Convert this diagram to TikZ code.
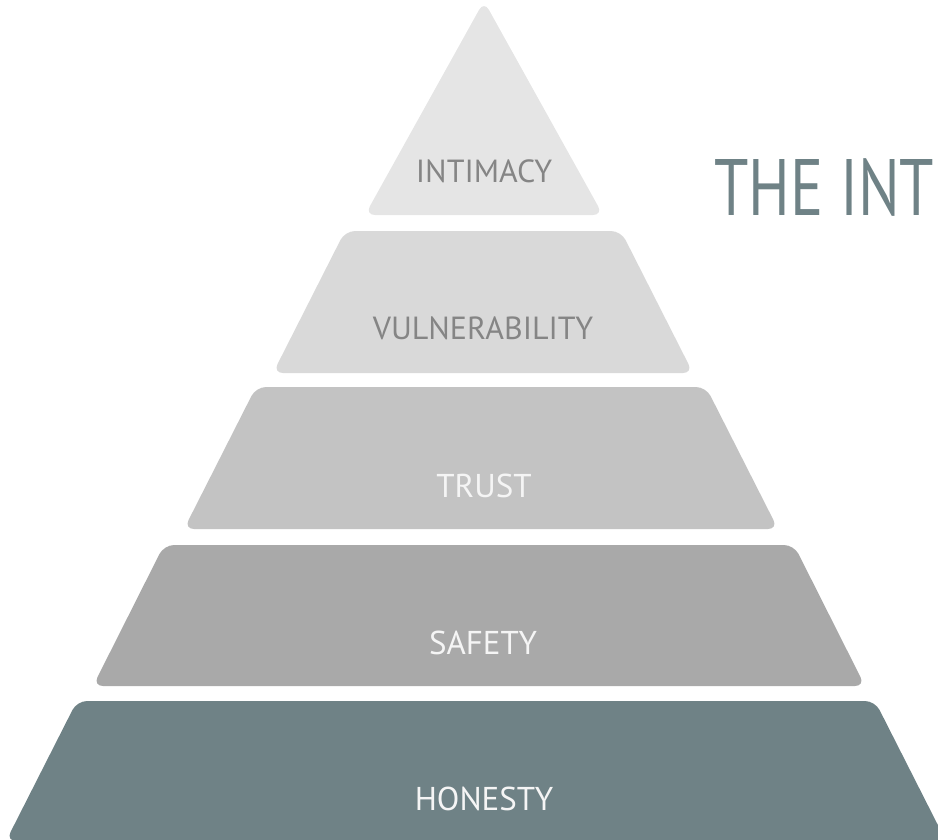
\documentclass[tikz,border=0pt]{standalone}
\usepackage{fontspec}
\setmainfont{PT Sans}
\usepackage{xcolor}
\usetikzlibrary{positioning}
\definecolor{tierone}{HTML}{E5E5E5}
\definecolor{tiertwo}{HTML}{D9D9D9}
\definecolor{tierthree}{HTML}{C3C3C3}
\definecolor{tierfour}{HTML}{A9A9A9}
\definecolor{tierfive}{HTML}{6F8286}
\definecolor{labelgrey}{HTML}{858585}
\begin{document}
\begin{tikzpicture} [x=1pt,y=-1pt,
    tier/.style={rounded corners=10pt},
    darklabel/.style={text=labelgrey,inner sep=0pt,font=\fontsize{32}{32}\selectfont},
    lightlabel/.style={text=white!96!black,inner sep=0pt,font=\fontsize{33}{33}\selectfont}]
    \useasboundingbox (0,0) rectangle (938,839);
    \clip (0,0) rectangle (938,839);

    % top of the pyramid
    \fill[tier,tierone] (484,1) -- (603,215) -- (365,215) -- cycle;

    % the four bands below it: centre/top/bottom/top half width/bottom half width/colour
    \foreach \cx/\ya/\yb/\wa/\wb/\col in {
      483/231/373/138/210/tiertwo,
      481/387/529/225/297/tierthree,
      479/545/686/315/386/tierfour,
      476/701/841/399/470/tierfive}
      \fill[tier,\col] (\cx-\wa,\ya) -- (\cx+\wa,\ya) -- (\cx+\wb,\yb) -- (\cx-\wb,\yb) -- cycle;

    \node[darklabel] (intimacy) at (484,171) {INTIMACY};
    \node[darklabel] (vulnerability) at (483,328) {VULNERABILITY};
    \node[lightlabel] (trust) at (484,486) {TRUST};
    \node[lightlabel] (safety) at (483,643) {SAFETY};
    \node[lightlabel] (honesty) at (484,799) {HONESTY};

    \node[anchor=west,inner sep=0pt,text=tierfive,font=\fontsize{80}{80}\selectfont]
      (title) at (714,187) {\scalebox{0.775}[1]{THE INT}};
\end{tikzpicture}
\end{document}
